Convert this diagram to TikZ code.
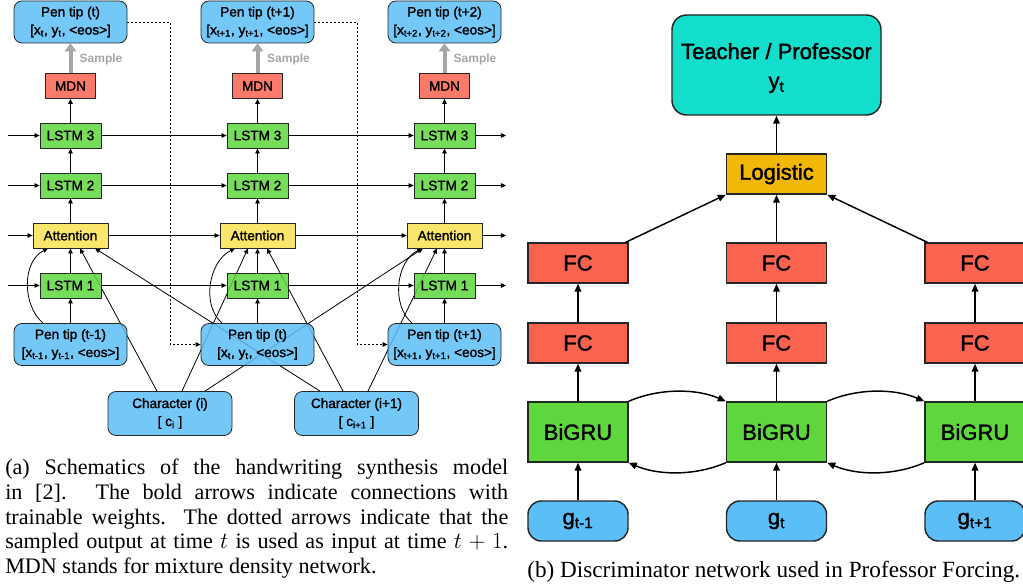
\documentclass[tikz,border=0pt]{standalone}
\usepackage{fontspec}
\setmainfont{Liberation Serif}
\setsansfont{Liberation Sans}
\newfontfamily\medsans{Liberation Sans}[FakeBold=1.6]
\usetikzlibrary{arrows.meta,calc,backgrounds}
\definecolor{pblue}{RGB}{92,190,247}
\definecolor{pgreen}{RGB}{94,215,62}
\definecolor{pyellow}{RGB}{249,226,80}
\definecolor{pred}{RGB}{250,99,79}
\definecolor{porange}{RGB}{242,184,8}
\definecolor{pcyan}{RGB}{18,222,203}
\definecolor{pborder}{RGB}{38,38,38}
\definecolor{pgray}{RGB}{165,165,165}
\newcommand\mysmallfont{\medsans\fontsize{10.2pt}{13.5pt}\selectfont}
\newcommand\mybigfont{\medsans\fontsize{16.5pt}{22pt}\selectfont}
\newcommand\mycapfont{\rmfamily\fontsize{16.6pt}{18.45pt}\selectfont}
\tikzset{
 lbox/.style={draw=pborder, line width=0.6pt, inner sep=0pt, align=center, font=\mysmallfont, fill opacity=0.85, text opacity=1},
 lstm/.style={lbox, fill=pgreen, minimum width=45.75pt, minimum height=18.75pt},
 attn/.style={lbox, fill=pyellow, minimum width=56.25pt, minimum height=18.75pt},
 mdn/.style={lbox, fill=pred, minimum width=37.5pt, minimum height=18.75pt},
 pen/.style={lbox, fill=pblue, rounded corners=6pt, minimum width=84.75pt, minimum height=31.5pt},
 chr/.style={lbox, fill=pblue, rounded corners=6pt, minimum width=93pt, minimum height=33pt},
 arr/.style={line width=0.6pt, -{Triangle[length=3.8pt,width=3.4pt]}},
 dotarr/.style={arr, dash pattern=on 1.5pt off 1.5pt},
 samplearr/.style={line width=3pt, draw=pgray, -{Triangle[length=6pt,width=8.5pt]}},
 samplelab/.style={font=\sffamily\bfseries\fontsize{9pt}{10pt}\selectfont, text=pgray, inner sep=0pt},
 rbox/.style={draw=pborder, line width=1.1pt, inner sep=0pt, align=center, font=\mybigfont},
 fc/.style={rbox, fill=pred, minimum width=75pt, minimum height=30pt},
 logi/.style={rbox, fill=porange, minimum width=75pt, minimum height=30pt},
 gru/.style={rbox, fill=pgreen, minimum width=75pt, minimum height=45pt},
 gin/.style={rbox, fill=pblue, rounded corners=10pt, minimum width=75pt, minimum height=30pt},
 teach/.style={rbox, fill=pcyan, rounded corners=11pt, minimum width=156.75pt, minimum height=75pt},
 rarr/.style={line width=1.1pt, -{Triangle[length=6pt,width=5pt]}},
}
\begin{document}
\begin{tikzpicture}[x=0.75pt,y=-0.75pt]
\useasboundingbox (0,0) rectangle (1023,588);

% ---------- left diagram: nodes ----------
\node[pen] (t1) at (70.5,22) {Pen tip (t)\\{}[x\textsubscript{t}, y\textsubscript{t}, <eos>]};
\node[pen] (t2) at (257.5,22) {Pen tip (t+1)\\{}[x\textsubscript{t+1}, y\textsubscript{t+1}, <eos>]};
\node[pen] (t3) at (444.5,22) {Pen tip (t+2)\\{}[x\textsubscript{t+2}, y\textsubscript{t+2}, <eos>]};

\node[samplelab] (s1) at (101,59) {Sample};
\node[samplelab] (s2) at (288.5,59) {Sample};
\node[samplelab] (s3) at (475,59) {Sample};

\node[mdn] (m1) at (70.5,86) {MDN};
\node[mdn] (m2) at (257.5,86) {MDN};
\node[mdn] (m3) at (444.5,86) {MDN};

\node[lstm] (l31) at (70.5,135.5) {LSTM 3};
\node[lstm] (l32) at (257.5,135.5) {LSTM 3};
\node[lstm] (l33) at (444.5,135.5) {LSTM 3};

\node[lstm] (l21) at (70.5,185.5) {LSTM 2};
\node[lstm] (l22) at (257.5,185.5) {LSTM 2};
\node[lstm] (l23) at (444.5,185.5) {LSTM 2};

\node[attn] (a1) at (70.5,235.5) {Attention};
\node[attn] (a2) at (257.5,235.5) {Attention};
\node[attn] (a3) at (444.5,235.5) {Attention};

\node[lstm] (b1) at (70.5,285.5) {LSTM 1};
\node[lstm] (b2) at (257.5,285.5) {LSTM 1};
\node[lstm] (b3) at (444.5,285.5) {LSTM 1};

\node[pen] (p1) at (70.5,344.5) {Pen tip (t-1)\\{}[x\textsubscript{t-1}, y\textsubscript{t-1}, <eos>]};
\node[pen] (p2) at (257.5,344.5) {Pen tip (t)\\{}[x\textsubscript{t}, y\textsubscript{t}, <eos>]};
\node[pen] (p3) at (444.5,344.5) {Pen tip (t+1)\\{}[x\textsubscript{t+1}, y\textsubscript{t+1}, <eos>]};

\node[chr] (c1) at (170,413.5) {Character (i)\\{}[ c\textsubscript{i} ]};
\node[chr] (c2) at (356.5,413.5) {Character (i+1)\\{}[ c\textsubscript{i+1} ]};

\foreach \r/\y in {l3/135.5, l2/185.5, a/235.5, b/285.5}{
  \coordinate (in\r) at (8,\y);
  \coordinate (out\r) at (506,\y);
}

\begin{pgfonlayer}{background}
% horizontal recurrent arrows
\draw[arr] (inl3) -- (l31); \draw[arr] (l31) -- (l32); \draw[arr] (l32) -- (l33); \draw[arr] (l33) -- (outl3);
\draw[arr] (inl2) -- (l21); \draw[arr] (l21) -- (l22); \draw[arr] (l22) -- (l23); \draw[arr] (l23) -- (outl2);
\draw[arr] (ina) -- (a1); \draw[arr] (a1) -- (a2); \draw[arr] (a2) -- (a3); \draw[arr] (a3) -- (outa);
\draw[arr] (inb) -- (b1); \draw[arr] (b1) -- (b2); \draw[arr] (b2) -- (b3); \draw[arr] (b3) -- (outb);
% vertical arrows
\foreach \i in {1,2,3}{
  \draw[arr] (p\i) -- (b\i);
  \draw[arr] (b\i) -- (a\i);
  \draw[arr] (a\i) -- (l2\i);
  \draw[arr] (l2\i) -- (l3\i);
  \draw[arr] (l3\i) -- (m\i);
  \draw[samplearr] (m\i) -- (t\i);
}
% pen tip -> attention curves
\draw[arr] ($(p1.north)+(-27.5,0)$) .. controls +(-21,-18) and +(-26,13) .. ($(a1.south)+(-22.5,0)$);
\draw[arr] ($(p2.north)+(-35.5,0)$) .. controls +(-21,-18) and +(-26,13) .. ($(a2.south)+(-22.5,0)$);
\draw[arr] ($(p3.north)+(-32.5,0)$) .. controls +(-21,-18) and +(-26,13) .. ($(a3.south)+(-22.5,0)$);
% character -> attention
\draw[arr] ($(c1.north)+(-13,0)$) -- ($(a1.south)+(9.5,0)$);
\draw[arr] ($(c1.north)+(12,0)$) -- ($(a2.south)+(-9.5,0)$);
\draw[arr] ($(c1.north)+(35,0)$) -- ($(a3.south)+(-21.5,0)$);
\draw[arr] ($(c2.north)+(-36.5,0)$) -- ($(a1.south)+(24.5,0)$);
\draw[arr] ($(c2.north)+(-13.5,0)$) -- ($(a2.south)+(9.5,0)$);
\draw[arr] ($(c2.north)+(11.5,0)$) -- ($(a3.south)+(-7.5,0)$);
% dotted feedback
\draw[dotarr] (t1.east) -- ++(43,0) |- (p2.west);
\draw[dotarr] (t2.east) -- ++(43,0) |- (p3.west);
\end{pgfonlayer}

% ---------- right diagram ----------
\node[teach] (tp) at (776.5,65) {};
\node[font=\mybigfont, align=center, inner sep=0pt] (tptext) at (776.5,68) {Teacher / Professor\\y\textsubscript{t}};
\node[logi] (lg) at (776.5,174) {Logistic};
\node[fc] (fa1) at (578,263) {FC};
\node[fc] (fa2) at (776.5,263) {FC};
\node[fc] (fa3) at (975,263) {FC};
\node[fc] (fb1) at (578,343) {FC};
\node[fc] (fb2) at (776.5,343) {FC};
\node[fc] (fb3) at (975,343) {FC};
\node[gru] (gr1) at (578,432) {BiGRU};
\node[gru] (gr2) at (776.5,432) {BiGRU};
\node[gru] (gr3) at (975,432) {BiGRU};
\node[gin] (g1) at (578,521) {g\textsubscript{t-1}};
\node[gin] (g2) at (776.5,521) {g\textsubscript{t}};
\node[gin] (g3) at (975,521) {g\textsubscript{t+1}};

\foreach \i in {1,2,3}{
  \draw[rarr] (g\i) -- (gr\i);
  \draw[rarr] (gr\i) -- (fb\i);
  \draw[rarr] (fb\i) -- (fa\i);
}
\draw[rarr] (fa2) -- (lg);
\draw[rarr] ($(fa1.north east)+(-3,0)$) -- (lg.south west);
\draw[rarr] ($(fa3.north west)+(3,0)$) -- (lg.south east);
\draw[rarr] (lg) -- (tp);
\draw[rarr] (gr1.north east) .. controls +(30,-13) and +(-30,-13) .. (gr2.north west);
\draw[rarr] (gr2.north east) .. controls +(30,-13) and +(-30,-13) .. (gr3.north west);
\draw[rarr] (gr2.south west) .. controls +(-30,13) and +(30,13) .. (gr1.south east);
\draw[rarr] (gr3.south west) .. controls +(-30,13) and +(30,13) .. (gr2.south east);

% ---------- captions ----------
\node[anchor=north west, text width=377.25pt, align=justify, inner sep=0pt, font=\mycapfont] (capa) at (5,459)
{(a) Schematics of the handwriting synthesis model\linebreak in [2]. The bold arrows indicate connections with\linebreak trainable weights. The dotted arrows indicate that the\linebreak sampled output at time $t$ is used as input at time $t+1$.\linebreak MDN stands for mixture density network.};
\node[anchor=base west, inner sep=0pt, font=\rmfamily\fontsize{17.4pt}{20pt}\selectfont] (capb) at (527,577) {(b) Discriminator network used in Professor Forcing.};
\end{tikzpicture}
\end{document}
